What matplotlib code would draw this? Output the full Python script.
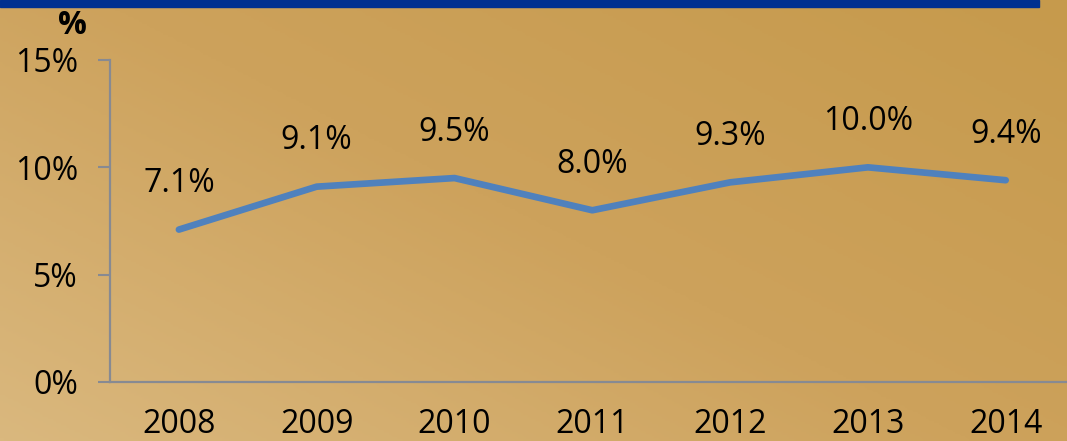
import matplotlib
matplotlib.use("Agg")
import matplotlib.pyplot as plt
import numpy as np
from matplotlib.colors import LinearSegmentedColormap

years = ["2008", "2009", "2010", "2011", "2012", "2013", "2014"]
values = [7.1, 9.1, 9.5, 8.0, 9.3, 10.0, 9.4]
value_labels = ["7.1%", "9.1%", "9.5%", "8.0%", "9.3%", "10.0%", "9.4%"]
yticks = [0, 5, 10, 15]
ytick_labels = ["0%", "5%", "10%", "15%"]

W, H = 1067, 441
fig = plt.figure(figsize=(W / 100, H / 100), dpi=100)
plt.rcParams['font.family'] = ['Open Sans', 'DejaVu Sans']
FS = 23

# background gradient
bg = fig.add_axes([0, 0, 1, 1], zorder=0)
bg.set_axis_off()
yy, xx = np.mgrid[0:1:200j, 0:1:400j]
t = np.clip(0.55 * (1 - xx) + 0.45 * yy, 0, 1)
cmap = LinearSegmentedColormap.from_list("gold", ["#c69a4c", "#cda25c", "#dab87e"])
bg.imshow(t, cmap=cmap, aspect="auto", extent=[0, 1, 0, 1], origin="upper", vmin=0, vmax=1)
bg.add_patch(plt.Rectangle((0, 1 - 7 / H), 1039 / W, 7 / H, color="#003090", transform=bg.transAxes))
bg.set_xlim(0, 1)
bg.set_ylim(0, 1)

left = 110 / W
bottom = (H - 382) / H
height = 322 / H
width = 7 * 137.8 / W
ax = fig.add_axes([left, bottom, width, height], zorder=1)
ax.patch.set_alpha(0)
x = np.arange(len(years))
ax.plot(x, values, color="#4f81bd", lw=4.8, solid_capstyle="round", solid_joinstyle="round")
for xi, v, lab in zip(x, values, value_labels):
    ax.annotate(lab, (xi, v), xytext=(0, 33), textcoords="offset points",
                ha="center", va="center", fontsize=FS, color="black")

ax.set_xlim(-0.5, 6.5)
ax.set_ylim(0, 15)
ax.set_yticks(yticks)
ax.set_yticklabels(ytick_labels, fontsize=FS)
ax.set_xticks(x)
ax.set_xticklabels(years, fontsize=FS)
ax.tick_params(axis="x", length=0, pad=19)
ax.tick_params(axis="y", length=9, width=1.5, color="#878a92", pad=14)
for s in ["top", "right"]:
    ax.spines[s].set_visible(False)
for s in ["left", "bottom"]:
    ax.spines[s].set_color("#878a92")
    ax.spines[s].set_linewidth(1.6)

fig.text(72 / W, 1 - 25 / H, "%", fontsize=23, fontweight="bold", ha="center", va="center")

fig.savefig("out.png", dpi=100)
